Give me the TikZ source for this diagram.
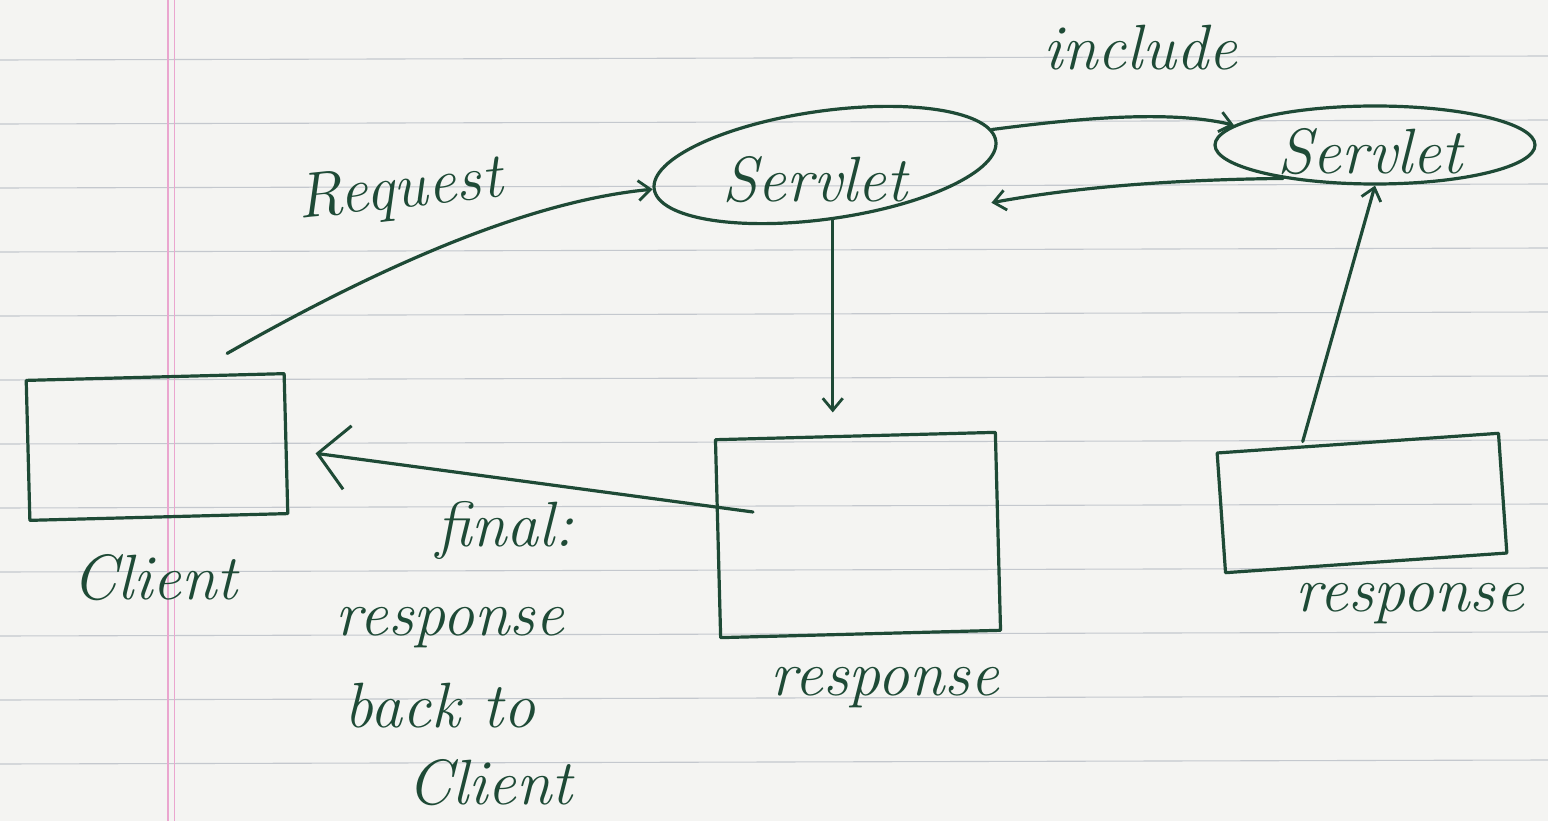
\documentclass[tikz,border=0pt]{standalone}
\usetikzlibrary{shapes.geometric,arrows.meta}
\definecolor{ink}{HTML}{1E4A36}
\definecolor{paper}{HTML}{F4F4F2}
\definecolor{rule}{HTML}{C4C8CE}
\definecolor{margin}{HTML}{EAA6CF}
\tikzset{
  pen/.style={draw=ink,line width=3.2pt,line cap=round,line join=round},
  arr/.style={pen,-{Straight Barb[length=12pt,width=20pt,line width=2.8pt]}},
  bigarr/.style={pen,-{Straight Barb[length=30pt,width=64pt,line width=3pt]}},
  srv/.style={pen,ellipse,inner sep=0pt},
  boxnode/.style={pen,rectangle,inner sep=0pt},
  hand/.style={text=ink,font=\fontsize{64}{70}\selectfont\itshape,inner sep=0pt}
}
\begin{document}
\begin{tikzpicture}[x=1pt,y=-1pt]
\useasboundingbox (0,0) rectangle (1548,821);
\fill[paper] (0,0) rectangle (1548,821);
\foreach \yy in {60,124,188,252,316,380,444,508,572,636,700,764}
  \draw[rule,line width=1.1pt] (0,\yy) -- (1548,\yy-4);
\draw[margin,line width=1.6pt] (168,0) -- (168,821);
\draw[margin,line width=1.0pt] (174,0) -- (174,821);

% servlets
\node[srv,minimum width=345pt,minimum height=108pt,rotate=8] (s1) at (825,165) {};
\node[hand] at (815,180) {Servlet};
\node[srv,minimum width=320pt,minimum height=78pt] (s2) at (1375,145) {};
\node[hand] at (1370,152) {Servlet};

% boxes
\node[boxnode,minimum width=258pt,minimum height=140pt,rotate=1.5] (client) at (157,447) {};
\node[boxnode,minimum width=280pt,minimum height=198pt,rotate=1.5] (mid) at (858,535) {};
\node[boxnode,minimum width=282pt,minimum height=120pt,rotate=4] (rr) at (1362,503) {};

% labels
\node[hand] (lclient) at (155,578) {Client};
\node[hand] (lresp1) at (885,688) {response};
\node[hand] (lresp2) at (1410,604) {response};
\node[hand,rotate=6] (lreq) at (400,192) {Request};
\node[hand] (linc) at (1140,48) {include};
\node[hand] (lf1) at (505,530) {final:};
\node[hand] (lf2) at (450,628) {response};
\node[hand] (lf3) at (440,706) {back to};
\node[hand] (lf4) at (490,783) {Client};

% connectors
\coordinate (reqstart) at ([xshift=72pt,yshift=22pt]client.north);
\draw[arr] (reqstart) .. controls (400,255) and (540,200) .. (s1.west);
\draw[arr] (s1.4) .. controls (1080,118) and (1170,110) .. (s2.172);
\coordinate (backend) at ([xshift=-6pt,yshift=-62pt]s1.east);
\draw[arr] (s2.200) .. controls (1150,180) and (1060,190) .. (backend);
\draw[arr] (s1.south) -- ([yshift=22pt]s1.south |- mid.north);
\draw[arr] ([xshift=-55pt]rr.north) -- (s2.south);
\coordinate (midsrc) at ([xshift=-105pt,yshift=23pt]mid.center);
\draw[bigarr,shorten >=-2pt] (midsrc) -- ([xshift=30pt,yshift=-10pt]client.east);
\end{tikzpicture}
\end{document}
